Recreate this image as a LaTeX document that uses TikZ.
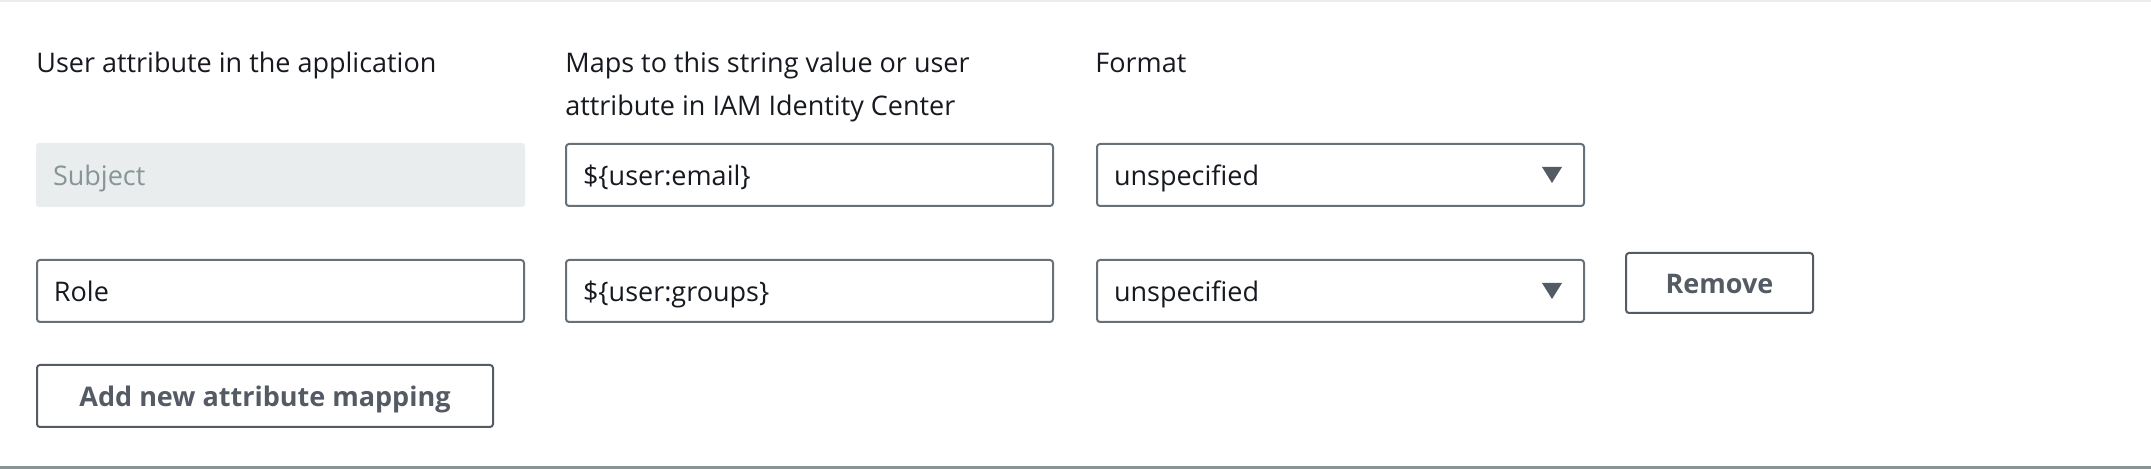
\documentclass[tikz,border=0pt]{standalone}
\usepackage{xcolor}
\usepackage{fontspec}
\setmainfont{Open Sans}
\usetikzlibrary{positioning}

\definecolor{awsink}{HTML}{16191F}
\definecolor{awsgrey}{HTML}{687078}
\definecolor{awsbtn}{HTML}{545B64}
\definecolor{awsfill}{HTML}{EAEDED}
\definecolor{awsmuted}{HTML}{879596}

\begin{document}
\begin{tikzpicture}[x=0.5pt,y=-0.5pt,
	every node/.style={font=\fontsize{13.5pt}{21.5pt}\selectfont, text=awsink},
	head/.style={anchor=base west, inner sep=0pt, align=left},
	field/.style={draw=awsgrey, line width=1pt, rounded corners=1.5pt, fill=white,
		minimum width=243.5pt, minimum height=31pt, inner xsep=8.5pt,
		text width=226.5pt, align=left, text height=13pt, text depth=2pt},
	locked/.style={field, draw=none, fill=awsfill, text=awsmuted, outer sep=0pt,
		minimum width=244.5pt, minimum height=32pt, text width=227.5pt},
	button/.style={draw=awsbtn, line width=1pt, rounded corners=1.5pt,
		font=\fontsize{13.5pt}{16pt}\selectfont\bfseries, text=awsbtn,
		minimum height=31pt, text height=13pt, text depth=2pt}
	]
	% page and separators
	\useasboundingbox (0,0) rectangle (2151,469);
	\draw[awsfill, line width=1pt] (0,1) -- (2151,1);
	\draw[awsmuted, line width=1.5pt] (0,467.5) -- (2151,467.5);
	
	% column headings
	\node[head] (hdapp) at (36,73) {User attribute in the application};
	\node[head] (hdmap) at (565,116) {Maps to this string value or user\\attribute in IAM Identity Center};
	\node[head] (hdfmt) at (1095,73) {Format};
	
	% first mapping
	\node[locked, anchor=north west] (subj) at (36,143) {Subject};
	\node[field, right=20pt of subj] (email) {\$\{user:email\}};
	\node[field, right=21pt of email] (fmtone) {unspecified};
	
	% second mapping
	\node[field, below=26pt of subj] (role) {Role};
	\node[field, right=20pt of role] (groups) {\$\{user:groups\}};
	\node[field, right=21pt of groups] (fmttwo) {unspecified};
	\node[button, minimum width=93.5pt, minimum height=30pt, right=20pt of fmttwo, yshift=4pt] (remove) {Remove};
	
	\node[button, minimum width=228pt, below=20.5pt of role.south west, anchor=north west] (addmap) {Add new attribute mapping};
	
	% drop-down arrows
	\foreach \dd in {fmtone,fmttwo}
		\fill[awsbtn] ([xshift=-21.5pt,yshift=4pt]\dd.east) -- ([xshift=-11.5pt,yshift=4pt]\dd.east) -- ([xshift=-16.5pt,yshift=-4pt]\dd.east) -- cycle;
	
\end{tikzpicture}
\end{document}
